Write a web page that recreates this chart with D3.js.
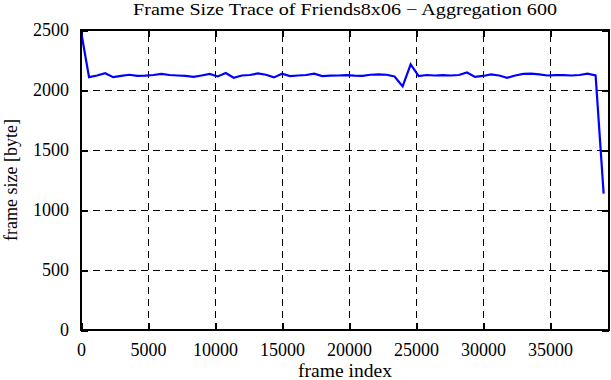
<!DOCTYPE html>
<html>
<head>
<meta charset="utf-8">
<style>
body { margin: 0; background: #fff; }
text { font-family: "Liberation Serif", "DejaVu Serif", serif; fill: #000; }
.grid line { stroke: #000; stroke-width: 1px; stroke-dasharray: 7,5; shape-rendering: crispEdges; }
</style>
</head>
<body>
<script src="https://cdn.jsdelivr.net/npm/d3@7"></script>
<script>

// frame index every 600 frames (aggregation 600)
var step = 600;
var frameSize = [2490, 2107, 2121, 2140, 2107, 2117, 2127, 2117, 2119, 2125,
                 2134, 2125, 2121, 2117, 2109, 2121, 2134, 2113, 2142, 2102,
                 2121, 2125, 2138, 2127, 2105, 2136, 2116, 2121, 2125, 2136,
                 2116, 2119, 2121, 2124, 2119, 2117, 2127, 2130, 2127, 2113,
                 2030, 2213, 2116, 2125, 2121, 2124, 2121, 2125, 2146, 2109,
                 2117, 2130, 2121, 2102, 2121, 2134, 2136, 2130, 2121, 2124,
                 2124, 2121, 2125, 2136, 2121, 1137];
var xTicks = [0, 5000, 10000, 15000, 20000, 25000, 30000, 35000];
var yTicks = [0, 500, 1000, 1500, 2000, 2500];

var data = frameSize.map(function(v, i) { return {frame: i * step, size: v}; });

var width = 611, height = 380;
var margin = {top: 30, right: 2, bottom: 50, left: 81};

var svg = d3.select("body").append("svg")
    .attr("width", width)
    .attr("height", height);

var x = d3.scaleLinear().domain([0, 39400]).range([margin.left, width - margin.right]);
var y = d3.scaleLinear().domain([0, 2500]).range([height - margin.bottom, margin.top]);

// grid
var grid = svg.append("g").attr("class", "grid");
grid.selectAll(".gx")
    .data(xTicks.filter(function(d) { return d > 0; }))
    .enter().append("line")
    .attr("x1", function(d) { return x(d); })
    .attr("x2", function(d) { return x(d); })
    .attr("y1", y(0))
    .attr("y2", y(2500));
grid.selectAll(".gy")
    .data(yTicks.filter(function(d) { return d > 0 && d < 2500; }))
    .enter().append("line")
    .attr("x1", x(0))
    .attr("x2", x.range()[1])
    .attr("y1", function(d) { return y(d); })
    .attr("y2", function(d) { return y(d); });

// axes with inward ticks
var tickLen = 7;
svg.append("g")
    .attr("transform", "translate(0," + y(0) + ")")
    .call(d3.axisBottom(x).tickValues(xTicks).tickSize(-tickLen).tickPadding(tickLen + 6).tickFormat(d3.format("d")))
    .call(function(g) { g.select(".domain").remove(); });
svg.append("g")
    .attr("transform", "translate(0," + y(2500) + ")")
    .call(d3.axisTop(x).tickValues(xTicks).tickSize(-tickLen).tickFormat(""))
    .call(function(g) { g.select(".domain").remove(); });
svg.append("g")
    .attr("transform", "translate(" + x(0) + ",0)")
    .call(d3.axisLeft(y).tickValues(yTicks).tickSize(-tickLen).tickPadding(tickLen + 5).tickFormat(d3.format("d")))
    .call(function(g) { g.select(".domain").remove(); });
svg.append("g")
    .attr("transform", "translate(" + x.range()[1] + ",0)")
    .call(d3.axisRight(y).tickValues(yTicks).tickSize(-tickLen).tickFormat(""))
    .call(function(g) { g.select(".domain").remove(); });

svg.selectAll(".tick line")
    .attr("stroke", "#000")
    .attr("stroke-width", 2)
    .style("shape-rendering", "crispEdges");
svg.selectAll(".tick text")
    .style("font-size", "18px")
    .style("font-family", "'Liberation Serif', serif");

// the data line
svg.append("path")
    .datum(data)
    .attr("fill", "none")
    .attr("stroke", "#0000ff")
    .attr("stroke-width", 2.2)
    .attr("d", d3.line()
        .x(function(d) { return x(d.frame); })
        .y(function(d) { return y(d.size); }));

// frame
svg.append("rect")
    .attr("x", x(0))
    .attr("y", y(2500))
    .attr("width", x.range()[1] - x(0))
    .attr("height", y(0) - y(2500))
    .attr("fill", "none")
    .attr("stroke", "#000")
    .attr("stroke-width", 2)
    .style("shape-rendering", "crispEdges");

// labels
svg.append("text")
    .attr("x", (x(0) + x.range()[1]) / 2)
    .attr("y", 15)
    .attr("text-anchor", "middle")
    .attr("textLength", 424)
    .attr("lengthAdjust", "spacingAndGlyphs")
    .style("font-size", "17px")
    .text("Frame Size Trace of Friends8x06 \u2212 Aggregation 600");

svg.append("text")
    .attr("x", (x(0) + x.range()[1]) / 2)
    .attr("y", 377)
    .attr("text-anchor", "middle")
    .attr("textLength", 94)
    .attr("lengthAdjust", "spacingAndGlyphs")
    .style("font-size", "18px")
    .text("frame index");

svg.append("text")
    .attr("transform", "translate(17," + ((y(0) + y(2500)) / 2) + ") rotate(-90)")
    .attr("text-anchor", "middle")
    .style("font-size", "18px")
    .text("frame size [byte]");

</script>
</body>
</html>
